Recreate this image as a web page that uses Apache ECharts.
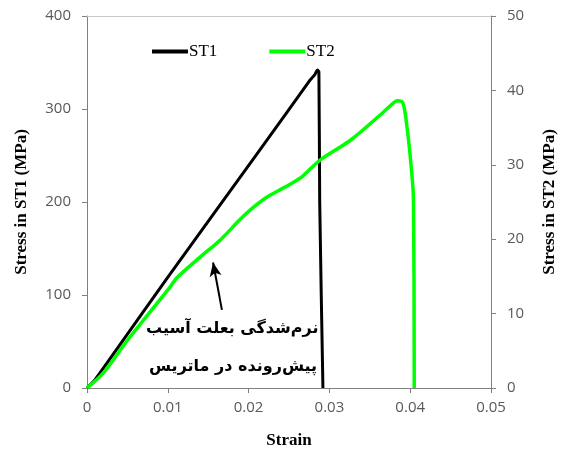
<!DOCTYPE html>
<html>
<head>
<meta charset="utf-8">
<script src="https://cdn.jsdelivr.net/npm/echarts@6/dist/echarts.min.js"></script>
<style>
  html, body { margin: 0; padding: 0; background: #fff; }
  #chart { width: 563px; height: 454px; }
</style>
</head>
<body>
<div id="chart"></div>
<script>
// ST1 strain / stress (left axis, MPa)
var st1Strain = [0, 0.001, 0.002, 0.0099, 0.0214, 0.0276, 0.0282, 0.0285, 0.0287, 0.0288, 0.0292]
var st1Stress = [0, 9, 21, 118, 256, 331, 337, 342, 340, 200, 0]
// ST2 strain / stress (right axis, MPa)
var st2Strain = [0, 0.002, 0.005, 0.0103, 0.0111, 0.014, 0.0165, 0.0189, 0.0205, 0.0222, 0.0245, 0.0265, 0.0288, 0.0326, 0.0366, 0.0378, 0.0384, 0.0391, 0.0396, 0.0401, 0.0404, 0.0405]
var st2Stress = [0, 2.0, 6.4, 13.6, 14.8, 17.6, 19.9, 22.6, 24.2, 25.6, 27.0, 28.3, 30.6, 33.3, 37.0, 38.2, 38.6, 38.3, 35.1, 30, 25.5, 0]
// tick values
var strainTicks = [0, 0.01, 0.02, 0.03, 0.04, 0.05]
var st1Ticks = [0, 100, 200, 300, 400]
var st2Ticks = [0, 10, 20, 30, 40, 50]
// arrow (strain, left-axis stress): tail -> tip
var arrowFrom = [0.0167, 84]
var arrowTo = [0.0156, 135]
var noteLines = ['نرم‌شدگی بعلت آسیب', 'پیش‌رونده در ماتریس']

function pairs (xs, ys) {
  return xs.map(function (x, i) { return [x, ys[i]] })
}

var axisColor = '#808080'
var labelStyle = { color: '#595959', fontSize: 15, fontFamily: 'Open Sans' }
var nameStyle = { color: '#000', fontSize: 17, fontWeight: 'bold', fontFamily: 'Liberation Serif' }

function ticks (vals) {
  return { show: true, inside: false, length: 5, customValues: vals, lineStyle: { color: axisColor } }
}
function labels (vals, margin) {
  return Object.assign({ margin: margin, customValues: vals }, labelStyle)
}

var chart = echarts.init(document.getElementById('chart'))
chart.setOption({
  animation: false,
  grid: { left: 87, right: 72, top: 16, bottom: 66, containLabel: false, outerBoundsMode: 'none' },
  legend: {
    left: 147,
    top: 38,
    itemWidth: 36,
    itemHeight: 4,
    itemGap: 52,
    icon: 'rect',
    textStyle: { color: '#000', fontSize: 17, fontFamily: 'Liberation Serif', padding: [0, 0, 0, -4] },
    data: ['ST1', 'ST2']
  },
  xAxis: {
    type: 'value',
    min: 0,
    max: 0.05,
    interval: 0.01,
    name: 'Strain',
    nameLocation: 'middle',
    nameGap: 44,
    nameTextStyle: nameStyle,
    axisLine: { lineStyle: { color: axisColor } },
    axisTick: ticks(strainTicks),
    minorTick: { show: false },
    axisLabel: labels(strainTicks, 12),
    splitLine: { show: false }
  },
  yAxis: [
    {
      type: 'value',
      min: 0,
      max: 400,
      interval: 100,
      name: 'Stress in ST1 (MPa)',
      nameLocation: 'middle',
      nameGap: 57,
      nameTextStyle: nameStyle,
      axisLine: { show: true, lineStyle: { color: axisColor } },
      axisTick: ticks(st1Ticks),
      minorTick: { show: false },
      axisLabel: labels(st1Ticks, 16),
      splitLine: { show: false }
    },
    {
      type: 'value',
      position: 'right',
      min: 0,
      max: 50,
      interval: 10,
      name: 'Stress in ST2 (MPa)',
      nameLocation: 'middle',
      nameGap: 50,
      nameTextStyle: nameStyle,
      axisLine: { show: true, lineStyle: { color: axisColor } },
      axisTick: ticks(st2Ticks),
      minorTick: { show: false },
      axisLabel: labels(st2Ticks, 16),
      splitLine: { show: false }
    }
  ],
  series: [
    {
      name: 'ST1',
      type: 'line',
      yAxisIndex: 0,
      symbol: 'none',
      smooth: 0.2,
      color: '#000',
      lineStyle: { width: 3, color: '#000' },
      data: pairs(st1Strain, st1Stress),
      markLine: {
        silent: true,
        symbol: ['none', 'arrow'],
        symbolSize: [9, 14],
        lineStyle: { color: '#000', width: 2, type: 'solid' },
        label: { show: false },
        data: [[{ coord: arrowFrom }, { coord: arrowTo }]]
      }
    },
    {
      name: 'ST2',
      type: 'line',
      yAxisIndex: 1,
      symbol: 'none',
      smooth: 0.3,
      color: '#00ff00',
      lineStyle: { width: 3.5, color: '#00ff00' },
      data: pairs(st2Strain, st2Stress),
      // light border line along the top of the plot
      markLine: {
        silent: true,
        symbol: ['none', 'none'],
        lineStyle: { color: '#c8c8c8', width: 1, type: 'solid' },
        label: { show: false },
        data: [{ yAxis: 50 }]
      }
    }
  ],
  graphic: noteLines.map(function (t, i) {
    return {
      type: 'text',
      left: 146 + i * 3,
      top: 321 + i * 38,
      style: {
        text: t,
        fill: '#000',
        font: 'bold 16px "DejaVu Sans"'
      }
    }
  })
})
</script>
</body>
</html>
